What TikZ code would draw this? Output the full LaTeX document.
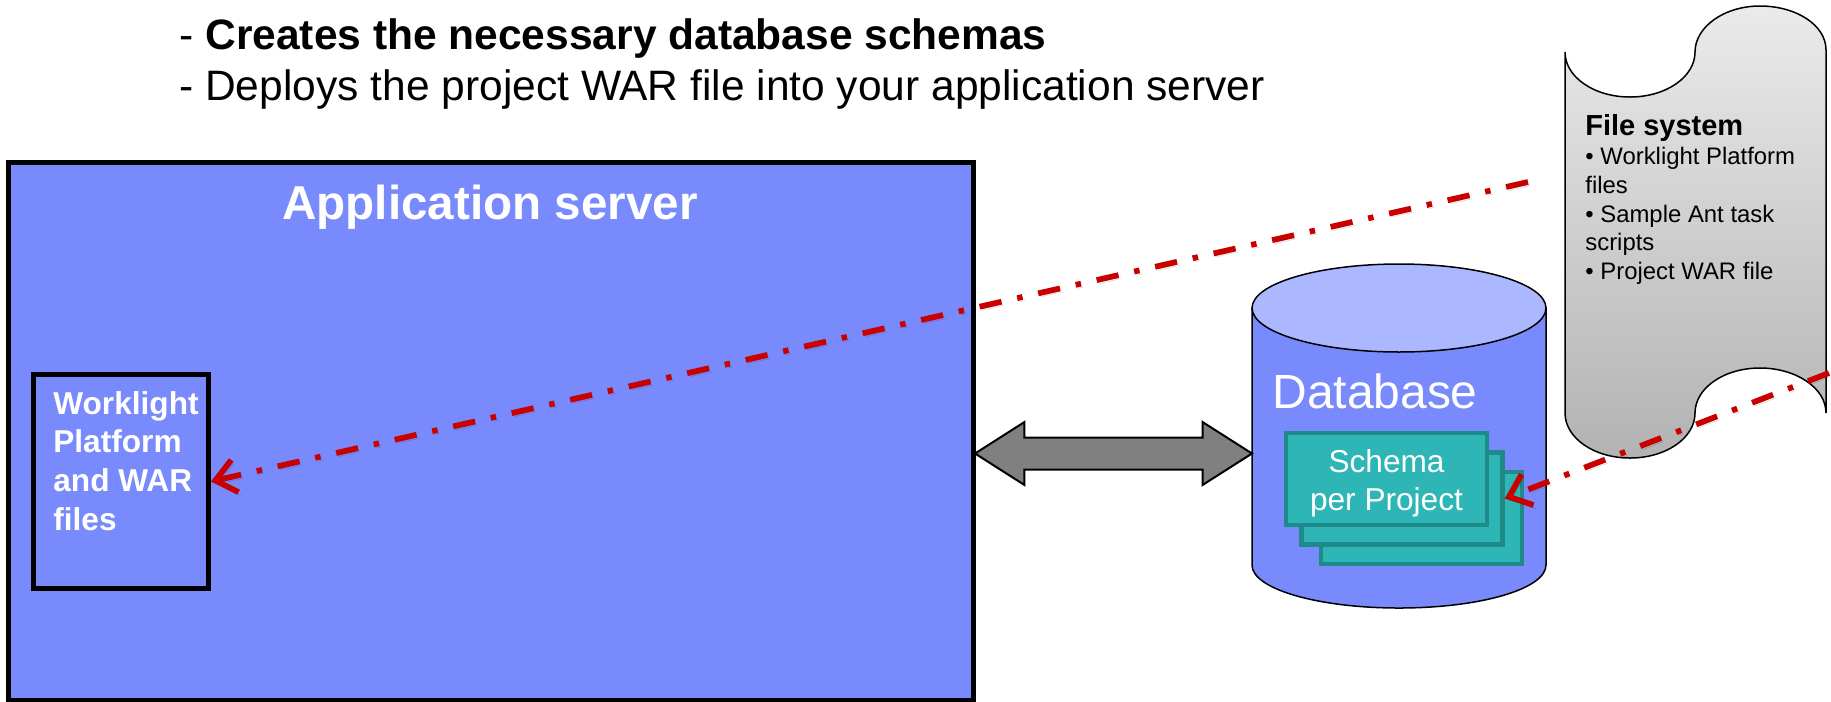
\documentclass[tikz,border=0pt]{standalone}
\usepackage{fontspec}
\setmainfont{Liberation Sans}
\usepackage{xcolor}
\usetikzlibrary{shapes.arrows}
\usetikzlibrary{arrows.meta}
\definecolor{serverblue}{HTML}{788AFC}
\definecolor{toplight}{HTML}{ABB8FF}
\definecolor{schemateal}{HTML}{2EB5B5}
\definecolor{schemaedge}{HTML}{1F8A8A}
\definecolor{linkred}{HTML}{C80000}
\tikzset{
    serverbox/.style = {rectangle, draw=black, fill=serverblue, line width=0.1cm, inner sep=0pt},
    schemabox/.style = {rectangle, draw=schemaedge, fill=schemateal, line width=0.09cm, inner sep=0pt, minimum width=4.02cm, minimum height=1.84cm},
    headtext/.style = {anchor=base west, inner sep=0pt, font=\fontsize{24.2pt}{28pt}\selectfont},
    dashdot/.style = {dash pattern=on 0.45cm off 0.32cm on 0.11cm off 0.32cm},
    edger/.style = {-{Straight Barb[length=0.4cm,width=0.66cm]}, linkred, line width=0.115cm, dashdot,
        preaction={draw=black, dashdot, opacity=0.14, transform canvas={xshift=0.05cm,yshift=-0.07cm}}},
}
\begin{document}
\begin{tikzpicture}[x=0.02cm,y=-0.02cm]
\useasboundingbox (0,0) rectangle (1831,701);
\node[headtext] at (179,49) (creates) {- \textbf{Creates the necessary database schemas}};
\node[headtext] at (179,100) (deploys) {- Deploys the project WAR file into your application server};
% application server
\node[serverbox, minimum width=19.3cm, minimum height=10.78cm] at (491,431.5) (server) {};
\node[anchor=base, inner sep=0pt, text=white, font=\fontsize{27.1pt}{32pt}\selectfont\bfseries] at (490,219) (servertext) {Application server};
\node[serverbox, minimum width=3.5cm, minimum height=4.28cm] at (121,481.5) (wp) {};
\node[anchor=north west, inner sep=0pt, align=left, text=white, font=\fontsize{18pt}{22pt}\selectfont\bfseries] at (53,391) (wptext) {Worklight\\Platform\\and WAR\\files};
% database
\draw[black, line width=0.03cm, fill=serverblue] (1252,308) -- (1252,565) .. controls (1252,589) and (1318,608) .. (1399,608)
    .. controls (1480,608) and (1546,589) .. (1546,565) -- (1546,308) -- cycle;
\draw[black, line width=0.03cm, fill=toplight] (1399,308) ellipse [x radius=2.94cm, y radius=0.88cm];
\node[anchor=base west, inner sep=0pt, text=white, font=\fontsize{27.3pt}{32pt}\selectfont] at (1272,408) (dbtext) {Database};
\node[schemabox] at (1421.5,518) (schemac) {};
\node[schemabox] at (1402,498.5) (schemab) {};
\node[schemabox] at (1386.5,479) (schemaa) {};
\node[inner sep=0pt, align=center, text=white, font=\fontsize{18pt}{21.6pt}\selectfont] at (1386.5,483) (schematext) {Schema\\per Project};
% file system
\draw[black, line width=0.03cm, top color=black!8, bottom color=black!30]
    (1565,52) .. controls (1565,77) and (1594,97) .. (1630,97) .. controls (1666,97) and (1695,77) .. (1695,52)
    .. controls (1695,27) and (1724,6) .. (1760,6) .. controls (1796,6) and (1826,25) .. (1826,50) -- (1826,413)
    .. controls (1826,388) and (1796,368) .. (1760,368) .. controls (1724,368) and (1695,388) .. (1695,413)
    .. controls (1695,438) and (1666,458) .. (1630,458) .. controls (1594,458) and (1565,438) .. (1565,413) -- cycle;
\node[anchor=north west, inner sep=0pt, align=left, font=\fontsize{13.6pt}{16.45pt}\selectfont] at (1585,114) (filetext) {{\fontsize{16.5pt}{16.45pt}\selectfont\bfseries File system}\\• Worklight Platform\\files\\• Sample Ant task\\scripts\\• Project WAR file};
% links
\node[double arrow, draw=black, fill=black!50, line width=0.04cm, inner sep=0pt, text height=0.6cm, text depth=0pt, minimum height=5.54cm,
    double arrow head extend=0.31cm, double arrow tip angle=65] at (1113.5,453.5) (link) {};
\coordinate (fsa) at (1528,182);
\coordinate (fsb) at (1829,373);
\draw[edger] (fsa) -- (wp.east);
\draw[edger] (fsb) -- (schemab.east);
\end{tikzpicture}
\end{document}
